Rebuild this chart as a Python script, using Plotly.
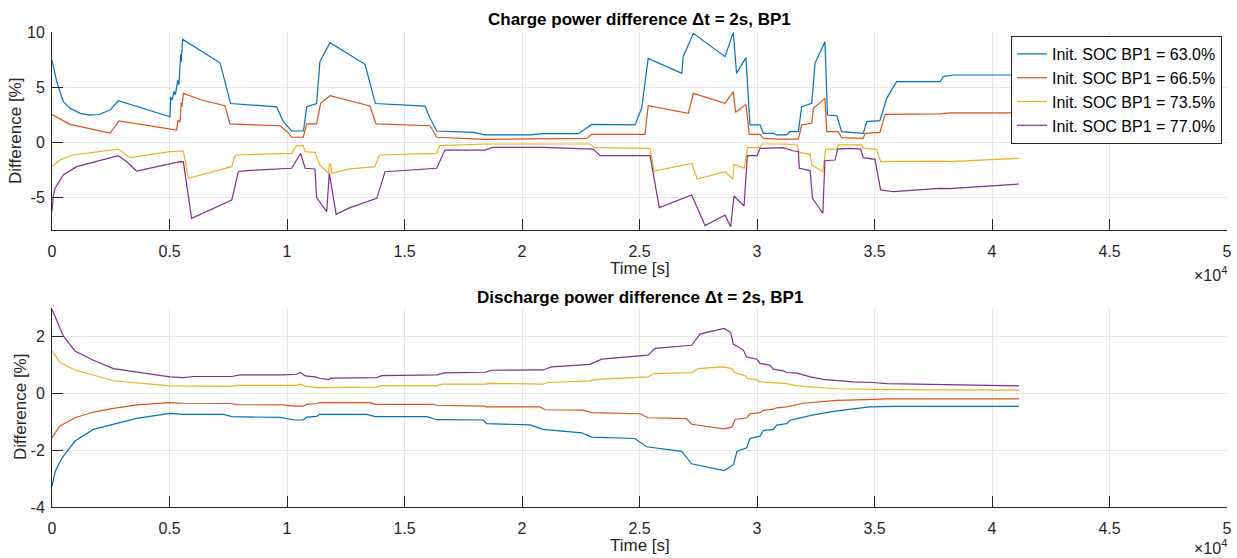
import plotly.graph_objects as go

# ---------------- data (time in seconds) ----------------
labels = ["Init. SOC BP1 = 63.0%", "Init. SOC BP1 = 66.5%",
          "Init. SOC BP1 = 73.5%", "Init. SOC BP1 = 77.0%"]
colors = ["#0072BD", "#D95319", "#EDB120", "#7E2F8E"]

# Charge power difference
chg_t_63 = [0, 200, 480, 770, 1200, 1600, 2000, 2470, 2820, 5020, 5050, 5100, 5200, 5250, 5350, 5400,
            5480, 5500, 5560, 6300, 7150, 7600, 9560, 9840, 10200, 10700, 10840, 11260, 11400, 11830,
            13320, 13760, 15870, 16090, 16370, 17930, 18430, 20340, 20900, 22400, 22970, 24810,
            25090, 25370, 26800, 26860, 27290, 28640, 28990, 29130, 29530, 29700, 30130, 30270,
            30700, 30840, 31260, 31400, 31760, 31900, 32330, 32470, 32890, 33000, 33400, 33600,
            34100, 34520, 34670, 35230, 35520, 35940, 37790, 37930, 38350, 41150]
chg_v_63 = [7.45, 5.5, 3.66, 3.06, 2.6, 2.45, 2.5, 2.9, 3.75, 2.3, 4.1, 3.8, 4.6, 4.3, 5.6, 5.2,
            8.0, 7.3, 9.33, 8.36, 7.2, 3.5, 3.2, 1.85, 1.0, 1.0, 3.2, 3.5, 7.3, 9.03,
            7.06, 3.5, 3.27, 2.15, 1.0, 0.88, 0.64, 0.64, 0.76, 0.76, 1.6, 1.55,
            3.06, 7.6, 6.24, 7.76, 9.88, 7.76, 9.97, 6.24, 7.67, 1.55, 1.55, 0.79,
            0.79, 0.64, 0.64, 0.94, 0.94, 3.2, 3.52, 7.15, 9.12, 2.45, 2.39, 0.94,
            0.88, 0.79, 1.85, 1.94, 3.97, 5.48, 5.48, 5.94, 6.09, 6.09]

chg_t_665 = [0, 770, 2470, 2850, 5300, 5360, 5450, 5500, 5530, 5590, 6370, 7360, 7570, 9700, 10010,
             10200, 10690, 10840, 11260, 11430, 11830, 13530, 13790, 16090, 16370, 18430, 22750,
             22970, 25230, 25370, 27080, 27290, 28640, 28990, 29090, 29530, 29670, 30130, 30270,
             30840, 31760, 31900, 32330, 32400, 32890, 32970, 33460, 33600, 34520, 34600, 35230,
             35450, 37790, 38200, 41150]
chg_v_665 = [2.5, 1.6, 0.8, 1.91, 1.09, 2.0, 1.8, 3.6, 3.2, 4.42, 3.82, 3.3, 1.64, 1.48, 0.94,
             0.43, 0.43, 1.64, 1.64, 3.52, 4.21, 3.27, 1.64, 1.48, 0.43, 0.24, 0.33,
             0.7, 0.7, 3.3, 2.61, 4.42, 3.52, 4.58, 2.7, 3.42, 0.7, 0.7, 0.33,
             0.27, 0.27, 1.55, 1.7, 3.06, 3.97, 0.94, 0.94, 0.39, 0.33, 0.79, 0.88,
             2.52, 2.55, 2.64, 2.64]

chg_t_735 = [0, 340, 900, 2820, 3320, 5020, 5590, 5800, 7650, 7790, 10200, 10410, 10690, 10770,
             11190, 11400, 11760, 11810, 11860, 11900, 12680, 13740, 13930, 16370, 16510, 18500,
             22890, 23100, 25450, 25620, 27220, 27460, 28640, 28970, 29020, 29460, 29600, 30130,
             30200, 31060, 31690, 31800, 32260, 32330, 32800, 32920, 33390, 33460, 34450, 34520,
             35090, 35260, 37790, 38200, 41150]
chg_v_735 = [-2.24, -1.64, -1.18, -0.64, -1.42, -0.88, -0.82, -3.3, -2.24, -1.18, -1.03, -0.33, -0.33, -0.88,
             -0.94, -2.09, -2.85, -2.0, -2.0, -2.85, -2.45, -2.24, -1.18, -1.03, -0.33, -0.18,
             -0.18, -0.52, -0.58, -2.64, -1.94, -3.36, -2.7, -3.36, -2.03, -2.39, -0.52, -0.52,
             -0.18, -0.18, -0.27, -0.94, -1.12, -2.09, -2.7, -0.64, -0.64, -0.27, -0.27, -0.58,
             -0.67, -1.79, -1.73, -1.79, -1.48]

chg_t_77 = [0, 50, 130, 480, 1050, 2820, 3180, 3600, 5450, 5590, 5940, 7650, 7930, 8280, 10200,
            10580, 10770, 11190, 11260, 11690, 11800, 12090, 12680, 13820, 14170, 16370, 16720,
            18430, 18780, 20900, 23030, 23320, 25450, 25840, 27220, 27790, 28640, 28880, 29020,
            29450, 29590, 30000, 30130, 30700, 31120, 31550, 31760, 31800, 32260, 32360, 32800,
            32890, 33320, 33430, 33960, 34410, 34520, 35020, 35260, 35800, 37790, 38200, 41150]
chg_v_77 = [-6.3, -5.0, -4.2, -3.0, -2.24, -1.24, -1.79, -2.64, -1.79, -1.8, -6.94, -5.27, -2.7, -2.6, -2.39,
            -1.03, -2.39, -2.45, -5.06, -6.33, -2.85, -6.58, -5.97, -5.12, -2.7, -2.39, -0.73,
            -0.73, -0.48, -0.48, -0.64, -1.24, -1.24, -5.97, -4.82, -7.6, -6.64, -7.7, -4.91,
            -5.82, -1.24, -1.24, -0.58, -0.52, -0.52, -0.82, -0.85, -2.39, -2.6, -5.12, -6.48,
            -1.7, -1.64, -0.64, -0.58, -0.64, -1.42, -1.58, -4.36, -4.52, -4.21, -4.24, -3.82]

# Discharge power difference
dis_t_63 = [0, 140, 430, 980, 1760, 2610, 3600, 5020, 5590, 7300, 7650, 9700, 10330, 10690, 10840,
            11260, 11400, 13400, 13750, 15950, 16370, 18360, 18500, 20340, 20620, 20900, 22540,
            22960, 24800, 25300, 26790, 27220, 28600, 29000, 29150, 29560, 29700, 30130, 30270,
            30690, 30840, 31260, 31400, 31970, 32400, 33400, 34800, 35800, 41150]
dis_v_63 = [-3.27, -2.74, -2.27, -1.68, -1.27, -1.09, -0.88, -0.71, -0.74, -0.74, -0.82, -0.85, -0.94, -0.94, -0.84,
            -0.81, -0.74, -0.74, -0.82, -0.82, -0.93, -0.94, -1.07, -1.11, -1.19, -1.27, -1.39,
            -1.54, -1.59, -1.88, -2.04, -2.48, -2.72, -2.51, -2.04, -1.92, -1.59, -1.51, -1.31,
            -1.27, -1.12, -1.07, -0.95, -0.84, -0.76, -0.62, -0.48, -0.46, -0.46]

dis_t_665 = [0, 340, 980, 1760, 2610, 3600, 5020, 5590, 7570, 7900, 9840, 10330, 10690, 10840,
             11260, 11400, 13540, 13750, 16230, 16370, 18360, 18500, 20760, 20980, 22600, 22960,
             25020, 25370, 27000, 27220, 28570, 28930, 29070, 29560, 29700, 30130, 30270, 30690,
             30840, 31260, 31970, 33400, 34670, 35520, 41150]
dis_v_665 = [-1.56, -1.15, -0.86, -0.66, -0.53, -0.41, -0.33, -0.35, -0.36, -0.4, -0.41, -0.45, -0.45, -0.39,
             -0.36, -0.33, -0.33, -0.39, -0.39, -0.42, -0.45, -0.48, -0.48, -0.58, -0.59, -0.68,
             -0.72, -0.86, -0.89, -1.09, -1.25, -1.19, -0.92, -0.86, -0.72, -0.68, -0.6, -0.56,
             -0.51, -0.48, -0.35, -0.25, -0.22, -0.2, -0.2]

dis_t_735 = [0, 340, 980, 2610, 5020, 7570, 7900, 10400, 10580, 10770, 11260, 13820, 14030, 16370,
             16600, 18430, 18650, 20900, 21100, 22890, 23200, 25370, 25600, 27220, 27500, 28570,
             28930, 29050, 29520, 29600, 29990, 30130, 31260, 31700, 33400, 35520, 41150]
dis_v_735 = [1.49, 1.08, 0.82, 0.44, 0.26, 0.24, 0.28, 0.28, 0.32, 0.25, 0.2, 0.22, 0.27, 0.27,
             0.32, 0.32, 0.35, 0.32, 0.38, 0.44, 0.49, 0.58, 0.69, 0.73, 0.87, 0.93,
             0.87, 0.73, 0.61, 0.52, 0.47, 0.41, 0.34, 0.26, 0.16, 0.13, 0.11]

dis_t_77 = [0, 480, 980, 1760, 2610, 3600, 5020, 5590, 6010, 7650, 8000, 9840, 10400, 10580,
            10770, 11190, 11400, 11760, 11900, 13820, 14030, 16370, 16720, 18430, 18710, 20900,
            21260, 22890, 23390, 25370, 25660, 27220, 27570, 27860, 28600, 28880, 28990, 29420,
            29560, 29990, 30130, 30550, 30690, 31120, 31260, 31700, 32260, 32820, 33460, 34100,
            34950, 35520, 41150]
dis_v_77 = [2.96, 2.02, 1.49, 1.16, 0.87, 0.75, 0.58, 0.55, 0.59, 0.59, 0.65, 0.65, 0.67, 0.73,
            0.61, 0.58, 0.53, 0.48, 0.53, 0.55, 0.62, 0.65, 0.72, 0.74, 0.81, 0.82,
            0.93, 1.02, 1.2, 1.34, 1.58, 1.69, 2.08, 2.14, 2.28, 2.14, 1.73, 1.52,
            1.28, 1.2, 1.05, 0.99, 0.85, 0.79, 0.73, 0.71, 0.58, 0.49, 0.44, 0.40,
            0.38, 0.34, 0.26]

charge = [(chg_t_63, chg_v_63), (chg_t_665, chg_v_665), (chg_t_735, chg_v_735), (chg_t_77, chg_v_77)]
discharge = [(dis_t_63, dis_v_63), (dis_t_665, dis_v_665), (dis_t_735, dis_v_735), (dis_t_77, dis_v_77)]

x_tickvals = [0, 5000, 10000, 15000, 20000, 25000, 30000, 35000, 40000, 45000, 50000]
x_ticktext = ["0", "0.5", "1", "1.5", "2", "2.5", "3", "3.5", "4", "4.5", "5"]
top_yticks = [-5, 0, 5, 10]
bot_yticks = [-4, -2, 0, 2]

# ---------------- figure ----------------
W, H = 1237, 558
FONT = "Liberation Sans, Arial, Helvetica, sans-serif"
AX = "#262626"
GRID = "#e6e6e6"

fig = go.Figure()
for (t, v), lab, c in zip(charge, labels, colors):
    fig.add_trace(go.Scatter(x=t, y=v, mode="lines", name=lab,
                             line=dict(color=c, width=1.2), xaxis="x", yaxis="y"))
for (t, v), lab, c in zip(discharge, labels, colors):
    fig.add_trace(go.Scatter(x=t, y=v, mode="lines", name=lab, showlegend=False,
                             line=dict(color=c, width=1.2), xaxis="x2", yaxis="y2"))

def px_x(p):
    return p / W

def px_y(p):
    return 1 - p / H

xdom = [px_x(52), px_x(1227)]
common_x = dict(range=[0, 50000], tickvals=x_tickvals, ticktext=x_ticktext,
                ticks="inside", ticklen=11, tickcolor=AX, tickwidth=1,
                showline=True, linecolor=AX, linewidth=1,
                showgrid=True, gridcolor=GRID, gridwidth=1, zeroline=False,
                automargin=False, ticklabelstandoff=7,
                tickfont=dict(family=FONT, size=16, color=AX), fixedrange=True)
common_y = dict(ticks="inside", ticklen=11, tickcolor=AX, tickwidth=1,
                showline=True, linecolor=AX, linewidth=1,
                showgrid=True, gridcolor=GRID, gridwidth=1, zeroline=False,
                automargin=False, ticklabelstandoff=3,
                tickfont=dict(family=FONT, size=16, color=AX), fixedrange=True)

fig.update_layout(
    width=W, height=H,
    margin=dict(l=0, r=0, t=0, b=0, autoexpand=False),
    paper_bgcolor="white", plot_bgcolor="white",
    font=dict(family=FONT, color=AX),
    xaxis=dict(domain=xdom, anchor="y", **common_x),
    yaxis=dict(domain=[px_y(230), px_y(32)], range=[-8, 10], tickvals=top_yticks,
               ticktext=[str(v) for v in top_yticks], anchor="x", **common_y),
    xaxis2=dict(domain=xdom, anchor="y2", **common_x),
    yaxis2=dict(domain=[px_y(507), px_y(308)], range=[-4, 3], tickvals=bot_yticks,
                ticktext=[str(v) for v in bot_yticks], anchor="x2", **common_y),
    legend=dict(x=px_x(1222), xanchor="right", y=px_y(36), yanchor="top",
                bgcolor="white", bordercolor=AX, borderwidth=1,
                font=dict(family=FONT, size=16, color="#000000"),
                itemwidth=30, tracegroupgap=0),
    showlegend=True,
)

ann = []
cx = px_x((52 + 1227) / 2)
ann.append(dict(text="<b>Charge power difference Δt = 2s, BP1</b>", x=cx, y=px_y(19),
                font=dict(size=17, color="#000000")))
ann.append(dict(text="<b>Discharge power difference Δt = 2s, BP1</b>", x=cx, y=px_y(297),
                font=dict(size=17, color="#000000")))
ann.append(dict(text="Time [s]", x=cx, y=px_y(269), font=dict(size=17, color=AX)))
ann.append(dict(text="Time [s]", x=cx, y=px_y(545), font=dict(size=17, color=AX)))
ann.append(dict(text="Difference [%]", x=px_x(16), y=px_y(131), textangle=-90,
                font=dict(size=17, color=AX)))
ann.append(dict(text="Difference [%]", x=px_x(20), y=px_y(407), textangle=-90,
                font=dict(size=17, color=AX)))
ann.append(dict(text="×10<sup>4</sup>", x=px_x(1229), y=px_y(274), xanchor="right",
                font=dict(size=16, color=AX)))
ann.append(dict(text="×10<sup>4</sup>", x=px_x(1229), y=px_y(547), xanchor="right",
                font=dict(size=16, color=AX)))
for a in ann:
    a.setdefault("xanchor", "center")
    a.update(xref="paper", yref="paper", yanchor="middle", showarrow=False)
    a["font"]["family"] = FONT
fig.update_layout(annotations=ann)

fig.write_html("out.html", config={"displayModeBar": False},
               post_script="document.body.style.margin='0';document.body.style.overflow='hidden';")
